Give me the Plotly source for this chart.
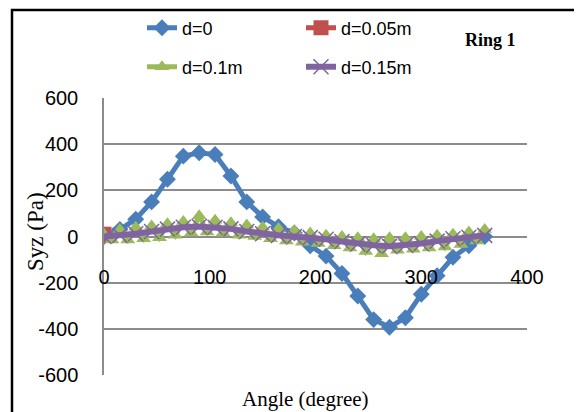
import plotly.graph_objects as go

# ---- data ----
angle_15 = [0, 15, 30, 45, 60, 75, 90, 105, 120, 135, 150, 165, 180,
            195, 210, 225, 240, 255, 270, 285, 300, 315, 330, 345, 360]
syz_d0 = [0, 30, 75, 150, 248, 348, 363, 355, 262, 150, 85, 42, 15,
          -40, -85, -160, -258, -360, -393, -352, -250, -170, -90, -40, 0]

angle_d005 = [0]
syz_d005 = [10]

angle_7_5 = [0, 7.5, 15, 22.5, 30, 37.5, 45, 52.5, 60, 67.5, 75, 82.5, 90,
             97.5, 105, 112.5, 120, 127.5, 135, 142.5, 150, 157.5, 165, 172.5, 180,
             187.5, 195, 202.5, 210, 217.5, 225, 232.5, 240, 247.5, 255, 262.5, 270,
             277.5, 285, 292.5, 300, 307.5, 315, 322.5, 330, 337.5, 345, 352.5, 360]
syz_d01 = [10, -15, 30, -15, 40, -10, 45, -5, 55, 5, 65, 15, 90,
           20, 70, 15, 60, 5, 50, 0, 40, -10, 35, -20, 25,
           -25, 15, -30, 5, -40, 0, -50, -5, -65, -10, -75, -5,
           -60, -5, -55, 0, -50, 5, -45, 10, -35, 20, -20, 30]

syz_d015 = [0, 5, 12, 22, 32, 40, 43, 40, 33, 22, 12, 5, 0,
            -5, -12, -22, -32, -38, -42, -38, -30, -20, -10, -3, 5]

x_ticks = [0, 100, 200, 300, 400]
x_labels = ["0", "100", "200", "300", "400"]
y_ticks = [-600, -400, -200, 0, 200, 400, 600]
y_labels = ["-600", "-400", "-200", "0", "200", "400", "600"]

names = ["d=0", "d=0.05m", "d=0.1m", "d=0.15m"]
colors = ["#4A7EBB", "#C0504D", "#9BBB59", "#8064A2"]

# ---- geometry (window px; page body has an 8px margin) ----
W, H = 582, 412
OFF = 8
L, R, T, B = 104, 527, 98, 375
def px(x):
    return (x - L) / (R - L)
def py(y):
    return (B - y) / (B - T)

fig = go.Figure()
fig.add_trace(go.Scatter(x=angle_15, y=syz_d0, name=names[0], mode="lines+markers",
                         line=dict(color=colors[0], width=5),
                         marker=dict(symbol="diamond", size=13, color=colors[0]),
                         legend="legend"))
fig.add_trace(go.Scatter(x=angle_d005, y=syz_d005, name=names[1], mode="lines+markers",
                         line=dict(color=colors[1], width=5),
                         marker=dict(symbol="square", size=15, color=colors[1]),
                         legend="legend"))
fig.add_trace(go.Scatter(x=angle_7_5, y=syz_d01, name=names[2], mode="lines+markers",
                         line=dict(color=colors[2], width=5),
                         marker=dict(symbol="triangle-up", size=13, color=colors[2]),
                         legend="legend2"))
fig.add_trace(go.Scatter(x=angle_15, y=syz_d015, name=names[3], mode="lines+markers",
                         line=dict(color=colors[3], width=6),
                         marker=dict(symbol="x-thin", size=15, color=colors[3],
                                     line=dict(color=colors[3], width=1.5)),
                         legend="legend2"))

grid = "#8C8C8C"
fig.update_layout(
    width=W, height=H,
    margin=dict(l=L - OFF, r=W - (R - OFF), t=T - OFF, b=H - (B - OFF), pad=0,
                autoexpand=False),
    paper_bgcolor="white", plot_bgcolor="white",
    font=dict(family="Liberation Sans, Arial, sans-serif", size=20, color="black"),
    xaxis=dict(range=[0, 400], tickvals=x_ticks, ticktext=x_labels, showgrid=False,
               zeroline=False, showline=False, anchor="free", position=py(263),
               ticks="", automargin=False),
    yaxis=dict(range=[-600, 600], tickvals=y_ticks, ticktext=y_labels, showgrid=True,
               gridcolor=grid, gridwidth=1.5, zeroline=False, showline=True,
               linecolor=grid, linewidth=1.5, ticks="", ticklabelstandoff=20,
               automargin=False),
    legend=dict(orientation="h", x=px(142), xanchor="left", y=py(28), yanchor="middle",
                entrywidth=114, font=dict(size=18), bgcolor="rgba(0,0,0,0)"),
    legend2=dict(orientation="h", x=px(142), xanchor="left", y=py(67), yanchor="middle",
                 entrywidth=114, font=dict(size=18), bgcolor="rgba(0,0,0,0)"),
    showlegend=True,
)

serif = "Liberation Serif, Times New Roman, serif"
fig.add_annotation(text="Syz (Pa)", x=px(35), y=py(232), xref="paper", yref="paper",
                   xanchor="center", yanchor="middle",
                   showarrow=False, textangle=-90, font=dict(family=serif, size=23))
fig.add_annotation(text="Angle (degree)", x=px(305), y=py(399), xref="paper", yref="paper",
                   xanchor="center", yanchor="middle",
                   showarrow=False, font=dict(family=serif, size=21))
fig.add_annotation(text="<b>Ring 1</b>", x=px(490), y=py(40), xref="paper", yref="paper",
                   xanchor="center", yanchor="middle",
                   showarrow=False, font=dict(family=serif, size=18))

fig.add_shape(type="rect", xref="paper", yref="paper",
              x0=px(12), y0=py(430), x1=px(600), y1=py(10),
              line=dict(color="black", width=2.5), fillcolor="rgba(0,0,0,0)", layer="below")

fig.write_html("out.html")
